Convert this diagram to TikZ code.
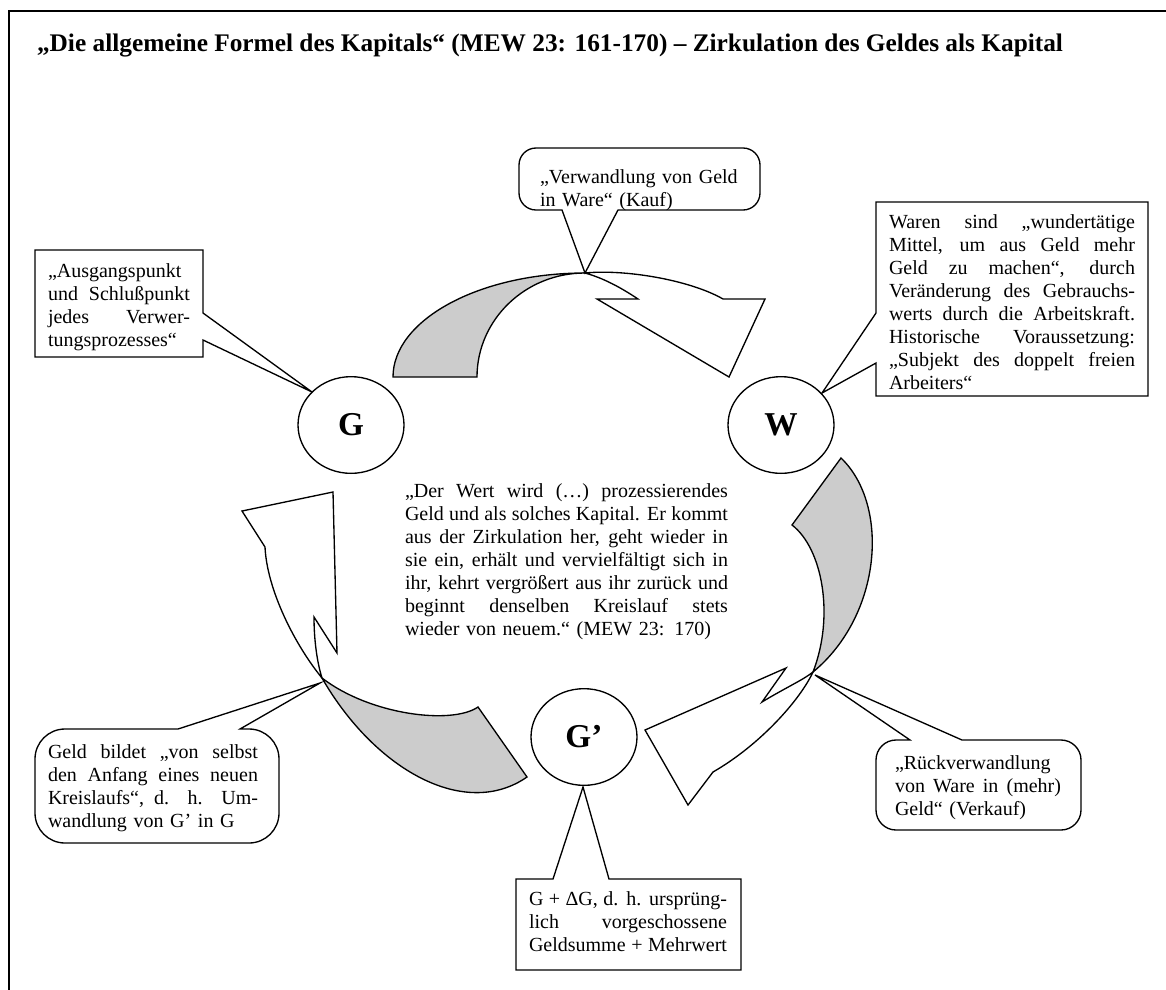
\documentclass[tikz,border=0pt]{standalone}
\usepackage{fontspec}
\setmainfont{Liberation Serif}
\usetikzlibrary{shapes.geometric}
\newcommand\jl[1]{{\spaceskip=0pt\xspaceskip=0pt\makebox[\linewidth][s]{#1}}}
\begin{document}
\begin{tikzpicture}[x=0.6pt,y=-0.6pt,
  every node/.style={inner sep=0pt, outer sep=0pt},
  box/.style={draw=black, line width=0.8pt, fill=white, line join=miter},
  ribbon/.style={draw=black, line width=0.8pt, fill=gray!40, line join=miter},
  ribbonw/.style={draw=black, line width=0.8pt, fill=white, line join=miter},
  circ/.style={ellipse, draw=black, line width=0.8pt, fill=white, minimum width=63.6pt, minimum height=58pt, font=\fontsize{20}{24}\selectfont\bfseries},
  txt/.style={anchor=base west, align=left, font=\fontsize{12}{13.8}\selectfont},
  frame/.style={draw=black, line width=1.2pt},
]
\useasboundingbox (0,0) rectangle (1166,989);
\clip (0,0) rectangle (1166,989);
\fill[white] (0,0) rectangle (1166,989);
\draw[frame] (1170,11) -- (9,11) -- (9,995);

% title
\node[anchor=base, font=\fontsize{15.2}{17}\selectfont\bfseries] (title) at (550,51) {„Die allgemeine Formel des Kapitals“ (MEW 23: 161-170) – Zirkulation des Geldes als Kapital};

% named points
\coordinate (X) at (585,273);
\coordinate (Y) at (813,672);
\coordinate (Z) at (322,678);

% top arrow G -> W
\draw[ribbon] (393,377) .. controls (393,320) and (479,273) .. (X) .. controls (525,273) and (477,320) .. (477,377) -- cycle;
\draw[ribbonw] (X) .. controls (625,269) and (690,280) .. (723,299) -- (765,299) -- (729,377) -- (597,299) -- (638,299) .. controls (620,287) and (603,278) .. (X) -- cycle;

% right arrow W -> G'
\draw[ribbon] (841,458) .. controls (890,505) and (882,615) .. (Y) .. controls (835,615) and (822,548) .. (792,525) -- cycle;
\draw[ribbonw] (Y) .. controls (800,700) and (760,745) .. (713,772) -- (688,805) -- (645,730) -- (786,668) -- (762,702) .. controls (785,688) and (803,680) .. (Y) -- cycle;

% left arrow G' -> G
\draw[ribbon] (478,707) .. controls (452,725) and (370,715) .. (Z) .. controls (375,770) and (465,820) .. (527,777) -- cycle;
\draw[ribbonw] (Z) .. controls (295,645) and (267,590) .. (265,547) -- (242,511) -- (333,492) -- (337,653) -- (314,617) .. controls (314,640) and (317,662) .. (Z) -- cycle;

% callouts (rounded)
\draw[box] (562,210) -- (X) -- (618,210) -- (743,210) .. controls (752.4,210) and (760,202.4) .. (760,193) -- (760,165) .. controls (760,155.6) and (752.4,148) .. (743,148) -- (536,148) .. controls (526.6,148) and (519,155.6) .. (519,165) -- (519,193) .. controls (519,202.4) and (526.6,210) .. (536,210) -- cycle;
\draw[box] (910,740) -- (815,675) -- (962,740) -- (1061,740) .. controls (1072,740) and (1081,749) .. (1081,760) -- (1081,810) .. controls (1081,821) and (1072,830) .. (1061,830) -- (896,830) .. controls (885,830) and (876,821) .. (876,810) -- (876,760) .. controls (876,749) and (885,740) .. (896,740) -- cycle;
\draw[box] (178,729) -- (320,683) -- (240,729) -- (249,729) .. controls (265.6,729) and (279,742.4) .. (279,759) -- (279,813) .. controls (279,829.6) and (265.6,843) .. (249,843) -- (65,843) .. controls (48.4,843) and (35,829.6) .. (35,813) -- (35,759) .. controls (35,742.4) and (48.4,729) .. (65,729) -- cycle;
% callouts (rectangular)
\draw[box] (35,250) -- (203,250) -- (203,313) -- (312,392) -- (203,340) -- (203,357) -- (35,357) -- cycle;
\draw[box] (876,202) -- (1148,202) -- (1148,396) -- (876,396) -- (876,363) -- (822,393) -- (876,313) -- cycle;
\draw[box] (516,879) -- (553,879) -- (583,787) -- (609,879) -- (741,879) -- (741,970) -- (516,970) -- cycle;

% circles
\node[circ] (G) at (351,425) {G};
\node[circ] (W) at (781,425) {W};
\node[circ] (G2) at (584,737) {G’};

% texts
\node[txt, text width=140pt] (kauf) at (540,183) {„Verwandlung von Geld\\ in Ware“ (Kauf)};
\node[txt, text width=85.2pt] (ausg) at (48,277) {„Ausgangspunkt\\ \jl{und Schlußpunkt}\\ \jl{jedes Verwer-}\\ tungsprozesses“};
\node[txt, text width=147.6pt] (waren) at (889,228) {\jl{Waren sind „wundertätige}\\ \jl{Mittel, um aus Geld mehr}\\ \jl{Geld zu machen“, durch}\\ \jl{Veränderung des Gebrauchs-}\\ \jl{werts durch die Arbeitskraft.}\\ \jl{Historische Voraussetzung:}\\ \jl{„Subjekt des doppelt freien}\\ Arbeiters“};
\node[txt, text width=193.8pt] (quote) at (405,497) {\jl{„Der Wert wird (…) prozessierendes}\\ \jl{Geld und als solches Kapital. Er kommt}\\ \jl{aus der Zirkulation her, geht wieder in}\\ \jl{sie ein, erhält und vervielfältigt sich in}\\ \jl{ihr, kehrt vergrößert aus ihr zurück und}\\ \jl{beginnt denselben Kreislauf stets}\\ wieder von neuem.“ (MEW 23: 170)};
\node[txt, text width=99.6pt] (verkauf) at (895,769) {„Rückverwandlung\\ \jl{von Ware in (mehr)}\\ Geld“ (Verkauf)};
\node[txt, text width=126pt] (neu) at (48,758) {\jl{Geld bildet „von selbst}\\ \jl{den Anfang eines neuen}\\ \jl{Kreislaufs“, d. h. Um-}\\ wandlung von G’ in G};
\node[txt, text width=118.8pt] (mehr) at (529,905) {\jl{G + ΔG, d. h. ursprüng-}\\ \jl{lich vorgeschossene}\\ \jl{Geldsumme + Mehrwert}};
\end{tikzpicture}
\end{document}
